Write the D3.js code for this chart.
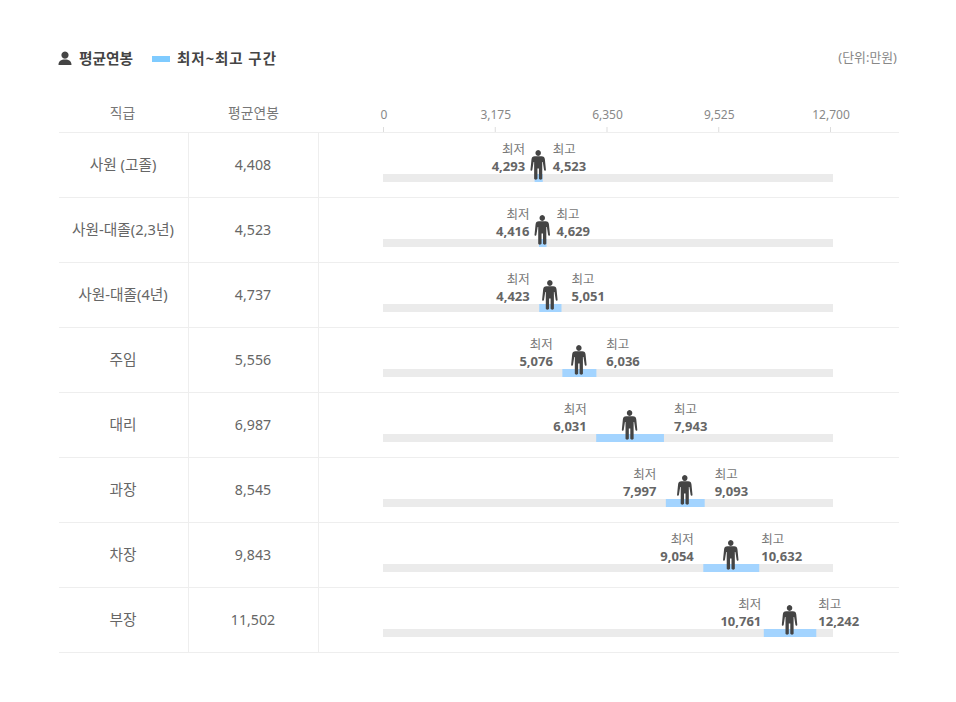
<!DOCTYPE html>
<html><head><meta charset="utf-8">
<script src="https://cdn.jsdelivr.net/npm/d3@7/dist/d3.min.js"></script>
<style>html,body{margin:0;padding:0;background:#fff}svg{display:block}text{font-family:"Noto Sans","Noto Sans CJK KR",sans-serif}</style>
</head><body><div id="c"></div>
<script>
const ranks=["사원 (고졸)","사원-대졸(2,3년)","사원-대졸(4년)","주임","대리","과장","차장","부장"];
const avgPay=[4408,4523,4737,5556,6987,8545,9843,11502];
const minPay=[4293,4416,4423,5076,6031,7997,9054,10761];
const maxPay=[4523,4629,5051,6036,7943,9093,10632,12242];
const axisTicks=[0,3175,6350,9525,12700];
const W=956,H=702;
const svg=d3.select("#c").append("svg").attr("width",W).attr("height",H);
const x=d3.scaleLinear().domain([0,12700]).range([382.5,832.5]);
const xTick=d3.scaleLinear().domain([0,12700]).range([383.5,830.5]);
const y=d3.scaleBand().domain(ranks).range([132.5,652.5]);
const fmt=d3.format(",");
const personPath="M0,-14.5a3,3 0 1 1 -0.01,0ZM-3.6,-8.2H3.6C6,-8.2 7,-7 7.3,-5L8.4,5.2C8.5,6.4 6.6,6.6 6.4,5.4L5,-2.5H4.4V14C4.4,15.5 1,15.5 .8,14V4H-.8V14C-1,15.5 -4.4,15.5 -4.4,14V-2.5H-5L-6.4,5.4C-6.6,6.6 -8.5,6.4 -8.4,5.2L-7.3,-5C-7,-7 -6,-8.2 -3.6,-8.2Z";
const lineC="#eeeeee",txt="#666666",dark="#444444";

// legend
const lg=svg.append("g");
lg.append("path").attr("fill",dark).attr("d","M65,51.5a3.6,3.6 0 1 1 -.01,0ZM58.5,65C58.5,61 61,59.5 65,59.5S71.5,61 71.5,65Z");
lg.append("text").attr("x",79).attr("y",63.5).attr("font-size",14.7).attr("font-weight",700).attr("fill",dark).text("평균연봉");
lg.append("rect").attr("x",152).attr("y",56).attr("width",18).attr("height",6).attr("fill","#7fcbff");
lg.append("text").attr("x",177).attr("y",63.5).attr("font-size",14.5).attr("font-weight",700).attr("fill",dark).attr("textLength",99).text("최저~최고 구간");
svg.append("text").attr("x",897).attr("y",62).attr("text-anchor","end").attr("font-size",12.9).attr("fill","#888").text("(단위:만원)");

// header
[["직급",122.5],["평균연봉",253.5]].forEach(([t,cx])=>svg.append("text").attr("x",cx).attr("y",118).attr("text-anchor","middle").attr("font-size",13.8).attr("fill","#777").text(t));
const ax=svg.append("g");
ax.selectAll("line").data(axisTicks).join("line").attr("x1",d=>xTick(d)).attr("x2",d=>xTick(d)).attr("y1",127).attr("y2",132).attr("stroke","#dddddd");
ax.selectAll("text").data(axisTicks).join("text").attr("x",d=>xTick(d)+.5).attr("y",119).attr("text-anchor","middle").attr("font-size",12).attr("fill","#888").text(fmt);

// grid
svg.append("line").attr("x1",59).attr("x2",899).attr("y1",132.5).attr("y2",132.5).attr("stroke",lineC);
[188.5,318.5].forEach(v=>svg.append("line").attr("x1",v).attr("x2",v).attr("y1",132.5).attr("y2",652.5).attr("stroke",lineC));

// rows
const rows=svg.selectAll("g.row").data(ranks.map((r,i)=>({r,avg:avgPay[i],lo:minPay[i],hi:maxPay[i]}))).join("g").attr("class","row").attr("transform",d=>`translate(0,${y(d.r)})`);
rows.append("line").attr("x1",59).attr("x2",899).attr("y1",y.bandwidth()).attr("y2",y.bandwidth()).attr("stroke",lineC);
rows.append("text").attr("x",123).attr("y",37).attr("text-anchor","middle").attr("font-size",14.7).attr("fill",txt).text(d=>d.r);
rows.append("text").attr("x",253).attr("y",37).attr("text-anchor","middle").attr("font-size",14.2).attr("fill",txt).text(d=>fmt(d.avg));
rows.append("rect").attr("x",383).attr("width",450).attr("y",41.5).attr("height",8).attr("fill","#ebebeb");
rows.append("rect").attr("x",d=>x(d.lo)).attr("width",d=>x(d.hi)-x(d.lo)).attr("y",41.5).attr("height",8).attr("fill","#a3d4ff");
rows.append("path").attr("d",personPath).attr("fill",dark).attr("transform",d=>`translate(${x(d.avg)-.5},32) scale(.92,1)`);
const loEnd=d=>x(d.lo)-9.5+(fmt(d.lo).length>5?7:0), hiStart=d=>x(d.hi)+10-(fmt(d.hi).length>5?8:0);
rows.append("text").attr("x",loEnd).attr("y",21).attr("text-anchor","end").attr("font-size",12.5).attr("fill","#777").text("최저");
rows.append("text").attr("x",loEnd).attr("y",38).attr("text-anchor","end").attr("font-size",13).attr("font-weight",700).attr("fill",txt).text(d=>fmt(d.lo));
rows.append("text").attr("x",hiStart).attr("y",21).attr("font-size",12.5).attr("fill","#777").text("최고");
rows.append("text").attr("x",hiStart).attr("y",38).attr("font-size",13).attr("font-weight",700).attr("fill",txt).text(d=>fmt(d.hi));
</script></body></html>
